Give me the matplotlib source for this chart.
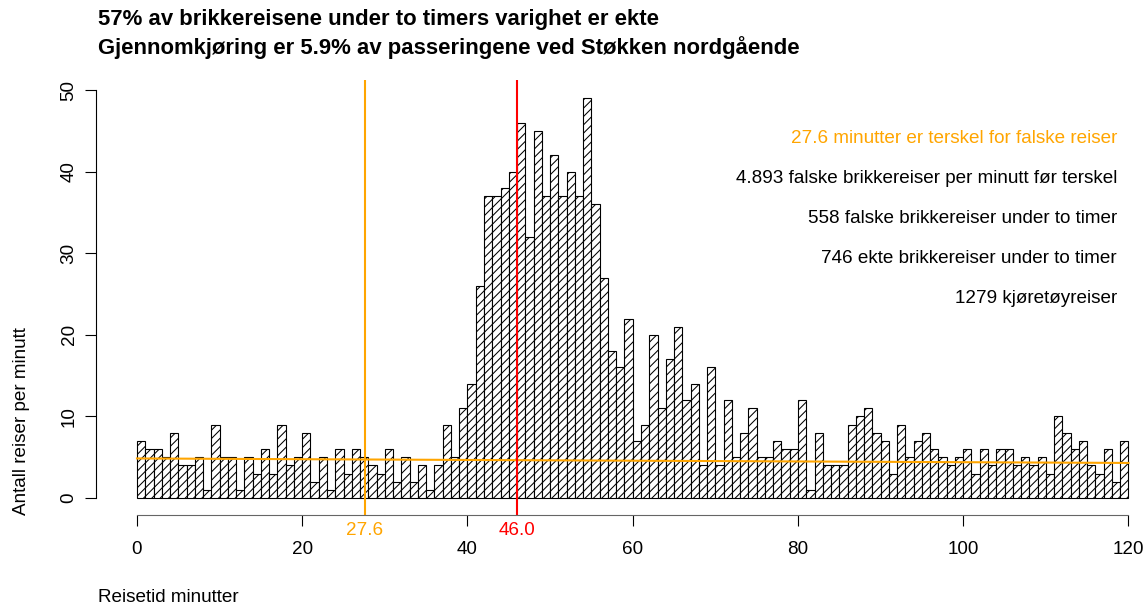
import numpy as np
import matplotlib
matplotlib.use('Agg')
import matplotlib.pyplot as plt

# reisetid i hele minutter (venstre kant av hver stolpe)
minutes = list(range(0, 120))
counts = [7, 6, 6, 5, 8, 4, 4, 5, 1, 9,
          5, 5, 1, 5, 3, 6, 3, 9, 4, 5,
          8, 2, 5, 1, 6, 3, 6, 5, 4, 3,
          6, 2, 5, 2, 4, 1, 4, 9, 5, 11,
          14, 26, 37, 37, 38, 40, 46, 32, 45, 37,
          42, 37, 40, 37, 49, 36, 27, 18, 16, 22,
          7, 9, 20, 11, 17, 21, 12, 14, 4, 16,
          4, 12, 5, 8, 11, 5, 5, 7, 6, 6,
          12, 1, 8, 4, 4, 4, 9, 10, 11, 8,
          7, 3, 9, 5, 7, 8, 6, 5, 4, 5,
          6, 3, 6, 4, 6, 6, 4, 5, 4, 5,
          3, 10, 8, 6, 7, 4, 3, 6, 2, 7]

threshold = 27.6
median = 46.0
fit_x = [0, 120]
fit_y = [4.85, 4.3]

x_ticks = [0, 20, 40, 60, 80, 100, 120]
y_ticks = [0, 10, 20, 30, 40, 50]

title_lines = ['57% av brikkereisene under to timers varighet er ekte',
               'Gjennomkjøring er 5.9% av passeringene ved Støkken nordgående']
info_lines = ['27.6 minutter er terskel for falske reiser',
              '4.893 falske brikkereiser per minutt før terskel',
              '558 falske brikkereiser under to timer',
              '746 ekte brikkereiser under to timer',
              '1279 kjøretøyreiser']
info_colors = ['#FFA500', 'black', 'black', 'black', 'black']
info_y = [44.1, 39.2, 34.3, 29.4, 24.5]

plt.rcParams['font.family'] = ['Liberation Sans', 'DejaVu Sans']
plt.rcParams['hatch.linewidth'] = 0.75
fs = 13.6

W, H = 1145, 606
fig = plt.figure(figsize=(W / 100, H / 100), dpi=100)
ax = fig.add_axes([97 / W, (H - 515) / H, (W - 97) / W, 435 / H])

ax.bar(minutes, counts, width=1, align='edge', color='white',
       edgecolor='black', linewidth=0.8, hatch='////')

ax.plot(fit_x, fit_y, color='#FFA500', linewidth=1.5)
ax.axvline(threshold, color='#FFA500', linewidth=1.5)
ax.axvline(median, color='red', linewidth=1.5)

ax.set_xlim(-4.84, 122.0)
ax.set_ylim(-2.08, 51.23)

for s in ['top', 'right']:
    ax.spines[s].set_visible(False)
ax.spines['bottom'].set_bounds(0, 120)
ax.spines['bottom'].set_color('#666666')
ax.spines['left'].set_bounds(0, 50)
ax.spines['left'].set_position(('outward', 1))

ax.set_xticks(x_ticks)
ax.set_yticks(y_ticks)
ax.tick_params(axis='x', length=8, pad=11, labelsize=fs)
ax.tick_params(axis='y', length=8, pad=5, labelsize=fs)
for lab in ax.get_yticklabels():
    lab.set_rotation(90)
    lab.set_va('center')

ax.text(threshold, -3.95, f'{threshold:.1f}', color='#FFA500', fontsize=fs,
        ha='center', va='center', clip_on=False)
ax.text(median, -3.95, f'{median:.1f}', color='red', fontsize=fs,
        ha='center', va='center', clip_on=False)

for txt, col, yy in zip(info_lines, info_colors, info_y):
    ax.text(118.6, yy, txt, color=col, fontsize=fs, ha='right', va='center')

fig.text(98 / W, 1 - 20 / H, title_lines[0], fontsize=15.9, fontweight='bold',
         ha='left', va='center')
fig.text(98 / W, 1 - 48 / H, title_lines[1], fontsize=15.9, fontweight='bold',
         ha='left', va='center')

fig.text(98 / W, 1 - 598 / H, 'Reisetid minutter', fontsize=fs,
         ha='left', va='center')
fig.text(22 / W, 1 - 515 / H, 'Antall reiser per minutt', fontsize=fs,
         rotation=90, ha='center', va='bottom')

fig.savefig('out.png', dpi=100)
